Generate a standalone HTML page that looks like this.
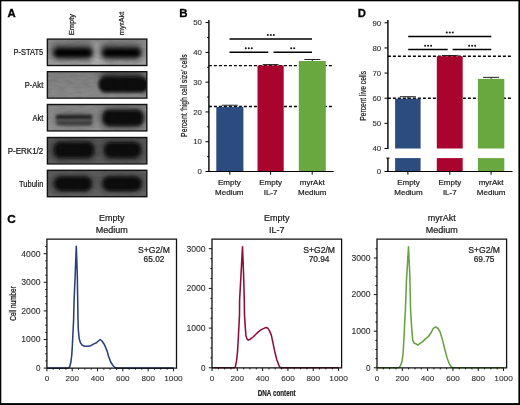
<!DOCTYPE html>
<html><head><meta charset="utf-8"><style>
html,body{margin:0;padding:0;background:#fff;}
body{width:520px;height:405px;overflow:hidden;font-family:"Liberation Sans", sans-serif;}
svg{display:block;will-change:transform;}
</style></head><body>
<svg width="520" height="405" viewBox="0 0 520 405" font-family='"Liberation Sans", sans-serif'><defs><clipPath id="blotclip"><rect x="47.5" y="39.5" width="99.2" height="25.6"/><rect x="47.5" y="72.1" width="99.2" height="25.6"/><rect x="47.5" y="104.9" width="99.2" height="25.6"/><rect x="47.5" y="137.9" width="99.2" height="25.6"/><rect x="47.5" y="170.7" width="99.2" height="25.6"/></clipPath><linearGradient id="g0" x1="0" y1="0" x2="0" y2="1"><stop offset="0" stop-color="#8a8a8a"/><stop offset="1" stop-color="#a2a2a2"/></linearGradient><linearGradient id="g1" x1="0" y1="0" x2="0" y2="1"><stop offset="0" stop-color="#7e7e7e"/><stop offset="1" stop-color="#8a8a8a"/></linearGradient><linearGradient id="g2" x1="0" y1="0" x2="0" y2="1"><stop offset="0" stop-color="#868686"/><stop offset="1" stop-color="#929292"/></linearGradient><linearGradient id="g3" x1="0" y1="0" x2="0" y2="1"><stop offset="0" stop-color="#585858"/><stop offset="1" stop-color="#626262"/></linearGradient><linearGradient id="g4" x1="0" y1="0" x2="0" y2="1"><stop offset="0" stop-color="#5e5e5e"/><stop offset="1" stop-color="#686868"/></linearGradient><filter id="b15" x="-30%" y="-60%" width="160%" height="220%"><feGaussianBlur stdDeviation="1.5"/></filter><filter id="b3" x="-50%" y="-50%" width="200%" height="200%"><feGaussianBlur stdDeviation="3"/></filter><filter id="b1" x="-30%" y="-60%" width="160%" height="220%"><feGaussianBlur stdDeviation="1.2"/></filter><filter id="b2" x="-50%" y="-50%" width="200%" height="200%"><feGaussianBlur stdDeviation="2"/></filter><filter id="noise" x="0" y="0" width="100%" height="100%"><feTurbulence type="fractalNoise" baseFrequency="0.12 0.35" numOctaves="2" seed="5"/><feColorMatrix type="matrix" values="0 0 0 0 0  0 0 0 0 0  0 0 0 0 0  0 0 0 -1.6 1.0"/></filter></defs><rect width="520" height="405" fill="#fff"/><text x="7.4" y="16.9" font-size="11.3" text-anchor="start" font-weight="bold" fill="#000" stroke="#000" stroke-width="0.35">A</text><text transform="translate(73.6,35.2) rotate(-90)" font-size="7.5" font-weight="normal" fill="#222" stroke="#222" stroke-width="0.22" textLength="21.2" lengthAdjust="spacingAndGlyphs">Empty</text><text transform="translate(124.1,35.2) rotate(-90)" font-size="7.5" font-weight="normal" fill="#222" stroke="#222" stroke-width="0.22" textLength="23.6" lengthAdjust="spacingAndGlyphs">myrAkt</text><text x="43.3" y="54.7" font-size="8.4" text-anchor="end" font-weight="normal" fill="#151515" stroke="#151515" stroke-width="0.22" textLength="29.8" lengthAdjust="spacingAndGlyphs" >P-STAT5</text><text x="43.3" y="88.3" font-size="8.4" text-anchor="end" font-weight="normal" fill="#151515" stroke="#151515" stroke-width="0.22" textLength="18.6" lengthAdjust="spacingAndGlyphs" >P-Akt</text><text x="43.3" y="120.8" font-size="8.4" text-anchor="end" font-weight="normal" fill="#151515" stroke="#151515" stroke-width="0.22" textLength="10.9" lengthAdjust="spacingAndGlyphs" >Akt</text><text x="43.3" y="154.0" font-size="8.4" text-anchor="end" font-weight="normal" fill="#151515" stroke="#151515" stroke-width="0.22" textLength="35.6" lengthAdjust="spacingAndGlyphs" >P-ERK1/2</text><text x="43.3" y="187.0" font-size="8.4" text-anchor="end" font-weight="normal" fill="#151515" stroke="#151515" stroke-width="0.22" textLength="24.2" lengthAdjust="spacingAndGlyphs" >Tubulin</text><rect x="47.5" y="39.5" width="99.2" height="25.6" fill="url(#g0)"/><rect x="47.5" y="72.1" width="99.2" height="25.6" fill="url(#g1)"/><rect x="47.5" y="104.9" width="99.2" height="25.6" fill="url(#g2)"/><rect x="47.5" y="137.9" width="99.2" height="25.6" fill="url(#g3)"/><rect x="47.5" y="170.7" width="99.2" height="25.6" fill="url(#g4)"/><g clip-path="url(#blotclip)"><rect x="93" y="45.00" width="8" height="22.6" rx="0" fill="#b4b4b4" filter="url(#b3)"/><rect x="50" y="43.00" width="44" height="17" rx="8.5" fill="#585858" filter="url(#b3)"/><rect x="99" y="43.00" width="44" height="17" rx="8.5" fill="#585858" filter="url(#b3)"/><rect x="53.8" y="48.30" width="38.4" height="9.0" rx="4.5" fill="#040404" filter="url(#b2)"/><rect x="102.4" y="48.30" width="38.4" height="9.0" rx="4.5" fill="#040404" filter="url(#b2)"/><rect x="100" y="72.10" width="44" height="10" rx="5.0" fill="#353535" filter="url(#b3)"/><rect x="98.5" y="77.10" width="50" height="15.5" rx="7.5" fill="#080808" filter="url(#b15)"/><rect x="55" y="112.40" width="40" height="14" rx="7.0" fill="#6c6c6c" filter="url(#b3)"/><rect x="56" y="114.60" width="36" height="10.5" rx="3" fill="#5a5a5a" filter="url(#b15)"/><rect x="56" y="115.00" width="36" height="4.0" rx="2.0" fill="#2a2a2a" filter="url(#b1)"/><rect x="57" y="121.30" width="35" height="3.6" rx="1.8" fill="#404040" filter="url(#b1)"/><rect x="100" y="107.40" width="46" height="21" rx="10.5" fill="#404040" filter="url(#b3)"/><rect x="103.5" y="110.40" width="39" height="15" rx="5" fill="#080808" filter="url(#b15)"/><rect x="50" y="139.40" width="47" height="22" rx="9" fill="#3a3a3a" filter="url(#b3)"/><rect x="101" y="139.40" width="43" height="22" rx="9" fill="#3a3a3a" filter="url(#b3)"/><rect x="54.5" y="142.20" width="39" height="15.5" rx="6.5" fill="#0a0a0a" filter="url(#b15)"/><rect x="104.5" y="142.60" width="36" height="14.8" rx="6.5" fill="#0c0c0c" filter="url(#b15)"/><rect x="50" y="174.20" width="45" height="19" rx="9" fill="#3c3c3c" filter="url(#b3)"/><rect x="99" y="174.20" width="46" height="19" rx="9" fill="#3c3c3c" filter="url(#b3)"/><rect x="54.5" y="176.80" width="37" height="14" rx="7" fill="#080808" filter="url(#b15)"/><rect x="102.8" y="176.80" width="38.5" height="14" rx="7" fill="#080808" filter="url(#b15)"/><rect x="47" y="38" width="100" height="160" filter="url(#noise)" opacity="0.10"/></g><rect x="47.4" y="39.1" width="99.4" height="26.400000000000002" fill="none" stroke="#111" stroke-width="1.4"/><rect x="47.4" y="71.69999999999999" width="99.4" height="26.400000000000002" fill="none" stroke="#111" stroke-width="1.4"/><rect x="47.4" y="104.5" width="99.4" height="26.400000000000002" fill="none" stroke="#111" stroke-width="1.4"/><rect x="47.4" y="137.5" width="99.4" height="26.400000000000002" fill="none" stroke="#111" stroke-width="1.4"/><rect x="47.4" y="170.29999999999998" width="99.4" height="26.400000000000002" fill="none" stroke="#111" stroke-width="1.4"/><text x="179.3" y="17.4" font-size="11.5" text-anchor="start" font-weight="bold" fill="#000" stroke="#000" stroke-width="0.3">B</text><line x1="208.9" x2="332.5" y1="106.5" y2="106.5" stroke="#000" stroke-width="1.4" stroke-dasharray="3 2"/><line x1="208.9" x2="332.5" y1="65.6" y2="65.6" stroke="#000" stroke-width="1.4" stroke-dasharray="3 2"/><rect x="216.3" y="106.88" width="27.10" height="64.62" fill="#2c4b7e"/><line x1="221.85000000000002" x2="237.85000000000002" y1="105.24" y2="105.24" stroke="#222" stroke-width="1"/><line x1="229.85000000000002" x2="229.85000000000002" y1="105.24" y2="106.88" stroke="#222" stroke-width="1"/><rect x="257.5" y="65.48" width="26.20" height="106.02" fill="#a9042e"/><line x1="262.6" x2="278.6" y1="64.59" y2="64.59" stroke="#222" stroke-width="1"/><line x1="270.6" x2="270.6" y1="64.59" y2="65.48" stroke="#222" stroke-width="1"/><rect x="298.8" y="61.02" width="27.00" height="110.48" fill="#69a83f"/><line x1="304.3" x2="320.3" y1="59.53" y2="59.53" stroke="#222" stroke-width="1"/><line x1="312.3" x2="312.3" y1="59.53" y2="61.02" stroke="#222" stroke-width="1"/><line x1="208.9" x2="208.9" y1="20" y2="172.1" stroke="#000" stroke-width="1.4"/><line x1="208.3" x2="333.7" y1="171.5" y2="171.5" stroke="#000" stroke-width="1.1"/><line x1="205.5" x2="208.9" y1="171.50" y2="171.50" stroke="#000" stroke-width="1"/><text x="201.9" y="174.20" font-size="7.8" text-anchor="end" font-weight="normal" fill="#2a2a2a" stroke="#2a2a2a" stroke-width="0.08">0</text><line x1="207.1" x2="208.9" y1="156.61" y2="156.61" stroke="#000" stroke-width="1"/><line x1="205.5" x2="208.9" y1="141.72" y2="141.72" stroke="#000" stroke-width="1"/><text x="201.9" y="144.42" font-size="7.8" text-anchor="end" font-weight="normal" fill="#2a2a2a" stroke="#2a2a2a" stroke-width="0.08">10</text><line x1="207.1" x2="208.9" y1="126.83" y2="126.83" stroke="#000" stroke-width="1"/><line x1="205.5" x2="208.9" y1="111.94" y2="111.94" stroke="#000" stroke-width="1"/><text x="201.9" y="114.64" font-size="7.8" text-anchor="end" font-weight="normal" fill="#2a2a2a" stroke="#2a2a2a" stroke-width="0.08">20</text><line x1="207.1" x2="208.9" y1="97.05" y2="97.05" stroke="#000" stroke-width="1"/><line x1="205.5" x2="208.9" y1="82.16" y2="82.16" stroke="#000" stroke-width="1"/><text x="201.9" y="84.86" font-size="7.8" text-anchor="end" font-weight="normal" fill="#2a2a2a" stroke="#2a2a2a" stroke-width="0.08">30</text><line x1="207.1" x2="208.9" y1="67.27" y2="67.27" stroke="#000" stroke-width="1"/><line x1="205.5" x2="208.9" y1="52.38" y2="52.38" stroke="#000" stroke-width="1"/><text x="201.9" y="55.08" font-size="7.8" text-anchor="end" font-weight="normal" fill="#2a2a2a" stroke="#2a2a2a" stroke-width="0.08">40</text><line x1="207.1" x2="208.9" y1="37.49" y2="37.49" stroke="#000" stroke-width="1"/><line x1="205.5" x2="208.9" y1="22.60" y2="22.60" stroke="#000" stroke-width="1"/><text x="201.9" y="25.30" font-size="7.8" text-anchor="end" font-weight="normal" fill="#2a2a2a" stroke="#2a2a2a" stroke-width="0.08">50</text><line x1="229.8" x2="229.8" y1="171.5" y2="174.7" stroke="#000" stroke-width="1"/><line x1="270.6" x2="270.6" y1="171.5" y2="174.7" stroke="#000" stroke-width="1"/><line x1="312.2" x2="312.2" y1="171.5" y2="174.7" stroke="#000" stroke-width="1"/><text x="229.3" y="185.2" font-size="8.0" text-anchor="middle" font-weight="normal" fill="#222" stroke="#222" stroke-width="0.22" >Empty</text><text x="229.3" y="194.8" font-size="8.0" text-anchor="middle" font-weight="normal" fill="#222" stroke="#222" stroke-width="0.22" >Medium</text><text x="270.6" y="185.2" font-size="8.0" text-anchor="middle" font-weight="normal" fill="#222" stroke="#222" stroke-width="0.22" >Empty</text><text x="270.6" y="194.8" font-size="8.0" text-anchor="middle" font-weight="normal" fill="#222" stroke="#222" stroke-width="0.22" >IL-7</text><text x="312.2" y="185.2" font-size="8.0" text-anchor="middle" font-weight="normal" fill="#222" stroke="#222" stroke-width="0.22" >myrAkt</text><text x="312.2" y="194.8" font-size="8.0" text-anchor="middle" font-weight="normal" fill="#222" stroke="#222" stroke-width="0.22" >Medium</text><line x1="229.5" x2="312.0" y1="39.0" y2="39.0" stroke="#000" stroke-width="1.5"/><line x1="229.5" x2="268.3" y1="52.3" y2="52.3" stroke="#000" stroke-width="1.5"/><line x1="273.5" x2="312.0" y1="52.3" y2="52.3" stroke="#000" stroke-width="1.5"/><circle cx="267.80" cy="34.9" r="1.0" fill="#111"/><circle cx="270.80" cy="34.9" r="1.0" fill="#111"/><circle cx="273.80" cy="34.9" r="1.0" fill="#111"/><circle cx="245.80" cy="48.2" r="1.0" fill="#111"/><circle cx="248.80" cy="48.2" r="1.0" fill="#111"/><circle cx="251.80" cy="48.2" r="1.0" fill="#111"/><circle cx="291.20" cy="48.2" r="1.0" fill="#111"/><circle cx="294.20" cy="48.2" r="1.0" fill="#111"/><text transform="translate(187.3,136.9) rotate(-90)" font-size="9.6" font-weight="normal" fill="#1a1a1a" stroke="#1a1a1a" stroke-width="0.22" textLength="82.6" lengthAdjust="spacingAndGlyphs">Percent ‘high cell size’ cells</text><text x="357.7" y="17.2" font-size="11.3" text-anchor="start" font-weight="bold" fill="#000" stroke="#000" stroke-width="0.3">D</text><line x1="387.9" x2="511.7" y1="56.2" y2="56.2" stroke="#000" stroke-width="1.4" stroke-dasharray="3 2"/><line x1="387.9" x2="511.7" y1="98.2" y2="98.2" stroke="#000" stroke-width="1.4" stroke-dasharray="3 2"/><rect x="395.1" y="98.72" width="25.50" height="49.78" fill="#2c4b7e"/><rect x="395.1" y="158.1" width="25.50" height="13.40" fill="#2c4b7e"/><line x1="399.85" x2="415.85" y1="96.71" y2="96.71" stroke="#222" stroke-width="1"/><line x1="407.85" x2="407.85" y1="96.71" y2="98.72" stroke="#222" stroke-width="1"/><rect x="436.8" y="56.24" width="25.90" height="92.26" fill="#a9042e"/><rect x="436.8" y="158.1" width="25.90" height="13.40" fill="#a9042e"/><line x1="441.75" x2="457.75" y1="55.48" y2="55.48" stroke="#222" stroke-width="1"/><line x1="449.75" x2="449.75" y1="55.48" y2="56.24" stroke="#222" stroke-width="1"/><rect x="477.9" y="78.86" width="26.40" height="69.64" fill="#69a83f"/><rect x="477.9" y="158.1" width="26.40" height="13.40" fill="#69a83f"/><line x1="483.1" x2="499.1" y1="77.35" y2="77.35" stroke="#222" stroke-width="1"/><line x1="491.1" x2="491.1" y1="77.35" y2="78.86" stroke="#222" stroke-width="1"/><line x1="387.9" x2="387.9" y1="20" y2="149.0" stroke="#000" stroke-width="1.4"/><line x1="387.9" x2="387.9" y1="158.1" y2="172.1" stroke="#000" stroke-width="1.4"/><line x1="386.29999999999995" x2="389.5" y1="158.1" y2="158.1" stroke="#000" stroke-width="1"/><line x1="387.29999999999995" x2="512.5" y1="171.5" y2="171.5" stroke="#000" stroke-width="1.1"/><line x1="384.5" x2="387.9" y1="148.50" y2="148.50" stroke="#000" stroke-width="1"/><text x="381.2" y="151.20" font-size="7.8" text-anchor="end" font-weight="normal" fill="#2a2a2a" stroke="#2a2a2a" stroke-width="0.08">40</text><line x1="384.5" x2="387.9" y1="123.36" y2="123.36" stroke="#000" stroke-width="1"/><text x="381.2" y="126.06" font-size="7.8" text-anchor="end" font-weight="normal" fill="#2a2a2a" stroke="#2a2a2a" stroke-width="0.08">50</text><line x1="384.5" x2="387.9" y1="98.22" y2="98.22" stroke="#000" stroke-width="1"/><text x="381.2" y="100.92" font-size="7.8" text-anchor="end" font-weight="normal" fill="#2a2a2a" stroke="#2a2a2a" stroke-width="0.08">60</text><line x1="384.5" x2="387.9" y1="73.08" y2="73.08" stroke="#000" stroke-width="1"/><text x="381.2" y="75.78" font-size="7.8" text-anchor="end" font-weight="normal" fill="#2a2a2a" stroke="#2a2a2a" stroke-width="0.08">70</text><line x1="384.5" x2="387.9" y1="47.94" y2="47.94" stroke="#000" stroke-width="1"/><text x="381.2" y="50.64" font-size="7.8" text-anchor="end" font-weight="normal" fill="#2a2a2a" stroke="#2a2a2a" stroke-width="0.08">80</text><line x1="384.5" x2="387.9" y1="22.80" y2="22.80" stroke="#000" stroke-width="1"/><text x="381.2" y="25.50" font-size="7.8" text-anchor="end" font-weight="normal" fill="#2a2a2a" stroke="#2a2a2a" stroke-width="0.08">90</text><line x1="384.5" x2="387.9" y1="171.5" y2="171.5" stroke="#000" stroke-width="1"/><text x="381.2" y="174.20" font-size="7.8" text-anchor="end" font-weight="normal" fill="#2a2a2a" stroke="#2a2a2a" stroke-width="0.08">0</text><line x1="407.9" x2="407.9" y1="171.5" y2="174.7" stroke="#000" stroke-width="1"/><line x1="449.8" x2="449.8" y1="171.5" y2="174.7" stroke="#000" stroke-width="1"/><line x1="491.1" x2="491.1" y1="171.5" y2="174.7" stroke="#000" stroke-width="1"/><text x="408.5" y="185.4" font-size="8.0" text-anchor="middle" font-weight="normal" fill="#222" stroke="#222" stroke-width="0.22" >Empty</text><text x="408.5" y="195.0" font-size="8.0" text-anchor="middle" font-weight="normal" fill="#222" stroke="#222" stroke-width="0.22" >Medium</text><text x="449.8" y="185.4" font-size="8.0" text-anchor="middle" font-weight="normal" fill="#222" stroke="#222" stroke-width="0.22" >Empty</text><text x="449.8" y="195.0" font-size="8.0" text-anchor="middle" font-weight="normal" fill="#222" stroke="#222" stroke-width="0.22" >IL-7</text><text x="491.1" y="185.4" font-size="8.0" text-anchor="middle" font-weight="normal" fill="#222" stroke="#222" stroke-width="0.22" >myrAkt</text><text x="491.1" y="195.0" font-size="8.0" text-anchor="middle" font-weight="normal" fill="#222" stroke="#222" stroke-width="0.22" >Medium</text><line x1="408.2" x2="491.3" y1="36.4" y2="36.4" stroke="#000" stroke-width="1.5"/><line x1="408.2" x2="447.7" y1="49.6" y2="49.6" stroke="#000" stroke-width="1.5"/><line x1="452.6" x2="491.3" y1="49.6" y2="49.6" stroke="#000" stroke-width="1.5"/><circle cx="446.80" cy="32.5" r="1.0" fill="#111"/><circle cx="449.80" cy="32.5" r="1.0" fill="#111"/><circle cx="452.80" cy="32.5" r="1.0" fill="#111"/><circle cx="425.10" cy="45.8" r="1.0" fill="#111"/><circle cx="428.10" cy="45.8" r="1.0" fill="#111"/><circle cx="431.10" cy="45.8" r="1.0" fill="#111"/><circle cx="469.10" cy="45.8" r="1.0" fill="#111"/><circle cx="472.10" cy="45.8" r="1.0" fill="#111"/><circle cx="475.10" cy="45.8" r="1.0" fill="#111"/><text transform="translate(366.1,120.7) rotate(-90)" font-size="9.3" font-weight="normal" fill="#1a1a1a" stroke="#1a1a1a" stroke-width="0.22" textLength="49.8" lengthAdjust="spacingAndGlyphs">Percent live cells</text><text x="7.3" y="223.0" font-size="11.8" text-anchor="start" font-weight="bold" fill="#000" stroke="#000" stroke-width="0.35">C</text><text transform="translate(15.9,320.7) rotate(-90)" font-size="8.6" font-weight="normal" fill="#111" stroke="#111" stroke-width="0.22" textLength="34.5" lengthAdjust="spacingAndGlyphs">Cell number</text><text x="257.8" y="395.6" font-size="9.9" text-anchor="start" font-weight="bold" fill="#222" stroke="#222" stroke-width="0.22" textLength="37.8" lengthAdjust="spacingAndGlyphs" >DNA content</text><path d="M46.90,368.10 L66.00,368.10 L68.70,367.90 L69.70,366.90 L70.90,362.00 L71.80,354.60 L72.40,344.70 L73.00,332.30 L73.60,320.00 L74.10,300.00 L75.20,275.00 L76.30,246.20 L77.30,275.00 L77.70,300.00 L78.00,320.00 L78.30,329.90 L79.20,338.50 L80.40,342.80 L82.30,345.30 L84.80,346.20 L87.80,346.30 L90.90,345.70 L93.40,344.10 L96.50,342.80 L98.30,341.00 L100.20,339.50 L102.00,341.00 L104.50,344.70 L107.00,350.90 L108.80,357.00 L110.70,362.00 L113.10,365.70 L115.00,367.50 L117.00,368.10 L173.50,368.10" fill="none" stroke="#2a3f78" stroke-width="1.55" stroke-linejoin="round"/><polyline points="46.9,368.1 46.9,239.1 176.5,239.1 176.5,368.1 46.9,368.1" fill="none" stroke="#111" stroke-width="1.3"/><line x1="43.699999999999996" x2="46.9" y1="368.10" y2="368.10" stroke="#111" stroke-width="1"/><text x="40.5" y="370.90" font-size="8.2" text-anchor="end" font-weight="normal" fill="#2a2a2a" stroke="#2a2a2a" stroke-width="0.08">0</text><line x1="45.3" x2="46.9" y1="360.95" y2="360.95" stroke="#111" stroke-width="1"/><line x1="45.3" x2="46.9" y1="353.80" y2="353.80" stroke="#111" stroke-width="1"/><line x1="45.3" x2="46.9" y1="346.65" y2="346.65" stroke="#111" stroke-width="1"/><line x1="43.699999999999996" x2="46.9" y1="339.50" y2="339.50" stroke="#111" stroke-width="1"/><text x="40.5" y="342.30" font-size="8.2" text-anchor="end" font-weight="normal" fill="#2a2a2a" textLength="19.2" lengthAdjust="spacingAndGlyphs" stroke="#2a2a2a" stroke-width="0.08">1000</text><line x1="45.3" x2="46.9" y1="332.35" y2="332.35" stroke="#111" stroke-width="1"/><line x1="45.3" x2="46.9" y1="325.20" y2="325.20" stroke="#111" stroke-width="1"/><line x1="45.3" x2="46.9" y1="318.05" y2="318.05" stroke="#111" stroke-width="1"/><line x1="43.699999999999996" x2="46.9" y1="310.90" y2="310.90" stroke="#111" stroke-width="1"/><text x="40.5" y="313.70" font-size="8.2" text-anchor="end" font-weight="normal" fill="#2a2a2a" textLength="19.2" lengthAdjust="spacingAndGlyphs" stroke="#2a2a2a" stroke-width="0.08">2000</text><line x1="45.3" x2="46.9" y1="303.75" y2="303.75" stroke="#111" stroke-width="1"/><line x1="45.3" x2="46.9" y1="296.60" y2="296.60" stroke="#111" stroke-width="1"/><line x1="45.3" x2="46.9" y1="289.45" y2="289.45" stroke="#111" stroke-width="1"/><line x1="43.699999999999996" x2="46.9" y1="282.30" y2="282.30" stroke="#111" stroke-width="1"/><text x="40.5" y="285.10" font-size="8.2" text-anchor="end" font-weight="normal" fill="#2a2a2a" textLength="19.2" lengthAdjust="spacingAndGlyphs" stroke="#2a2a2a" stroke-width="0.08">3000</text><line x1="45.3" x2="46.9" y1="275.15" y2="275.15" stroke="#111" stroke-width="1"/><line x1="45.3" x2="46.9" y1="268.00" y2="268.00" stroke="#111" stroke-width="1"/><line x1="45.3" x2="46.9" y1="260.85" y2="260.85" stroke="#111" stroke-width="1"/><line x1="43.699999999999996" x2="46.9" y1="253.70" y2="253.70" stroke="#111" stroke-width="1"/><text x="40.5" y="256.50" font-size="8.2" text-anchor="end" font-weight="normal" fill="#2a2a2a" textLength="19.2" lengthAdjust="spacingAndGlyphs" stroke="#2a2a2a" stroke-width="0.08">4000</text><line x1="45.3" x2="46.9" y1="246.55" y2="246.55" stroke="#111" stroke-width="1"/><line x1="46.90" x2="46.90" y1="368.1" y2="371.3" stroke="#111" stroke-width="1"/><text x="46.90" y="381.1" font-size="8.1" text-anchor="middle" font-weight="normal" fill="#2a2a2a" stroke="#2a2a2a" stroke-width="0.08">0</text><line x1="53.23" x2="53.23" y1="368.1" y2="369.70000000000005" stroke="#111" stroke-width="1"/><line x1="59.55" x2="59.55" y1="368.1" y2="369.70000000000005" stroke="#111" stroke-width="1"/><line x1="65.88" x2="65.88" y1="368.1" y2="369.70000000000005" stroke="#111" stroke-width="1"/><line x1="72.21" x2="72.21" y1="368.1" y2="371.3" stroke="#111" stroke-width="1"/><text x="72.21" y="381.1" font-size="8.1" text-anchor="middle" font-weight="normal" fill="#2a2a2a" stroke="#2a2a2a" stroke-width="0.08">200</text><line x1="78.54" x2="78.54" y1="368.1" y2="369.70000000000005" stroke="#111" stroke-width="1"/><line x1="84.86" x2="84.86" y1="368.1" y2="369.70000000000005" stroke="#111" stroke-width="1"/><line x1="91.19" x2="91.19" y1="368.1" y2="369.70000000000005" stroke="#111" stroke-width="1"/><line x1="97.52" x2="97.52" y1="368.1" y2="371.3" stroke="#111" stroke-width="1"/><text x="97.52" y="381.1" font-size="8.1" text-anchor="middle" font-weight="normal" fill="#2a2a2a" stroke="#2a2a2a" stroke-width="0.08">400</text><line x1="103.85" x2="103.85" y1="368.1" y2="369.70000000000005" stroke="#111" stroke-width="1"/><line x1="110.17" x2="110.17" y1="368.1" y2="369.70000000000005" stroke="#111" stroke-width="1"/><line x1="116.50" x2="116.50" y1="368.1" y2="369.70000000000005" stroke="#111" stroke-width="1"/><line x1="122.83" x2="122.83" y1="368.1" y2="371.3" stroke="#111" stroke-width="1"/><text x="122.83" y="381.1" font-size="8.1" text-anchor="middle" font-weight="normal" fill="#2a2a2a" stroke="#2a2a2a" stroke-width="0.08">600</text><line x1="129.16" x2="129.16" y1="368.1" y2="369.70000000000005" stroke="#111" stroke-width="1"/><line x1="135.48" x2="135.48" y1="368.1" y2="369.70000000000005" stroke="#111" stroke-width="1"/><line x1="141.81" x2="141.81" y1="368.1" y2="369.70000000000005" stroke="#111" stroke-width="1"/><line x1="148.14" x2="148.14" y1="368.1" y2="371.3" stroke="#111" stroke-width="1"/><text x="148.14" y="381.1" font-size="8.1" text-anchor="middle" font-weight="normal" fill="#2a2a2a" stroke="#2a2a2a" stroke-width="0.08">800</text><line x1="154.47" x2="154.47" y1="368.1" y2="369.70000000000005" stroke="#111" stroke-width="1"/><line x1="160.79" x2="160.79" y1="368.1" y2="369.70000000000005" stroke="#111" stroke-width="1"/><line x1="167.12" x2="167.12" y1="368.1" y2="369.70000000000005" stroke="#111" stroke-width="1"/><line x1="173.45" x2="173.45" y1="368.1" y2="371.3" stroke="#111" stroke-width="1"/><text x="173.45" y="381.1" font-size="8.1" text-anchor="middle" font-weight="normal" fill="#2a2a2a" textLength="18.6" lengthAdjust="spacingAndGlyphs" stroke="#2a2a2a" stroke-width="0.08">1000</text><text x="111.70" y="221.1" font-size="9" text-anchor="middle" font-weight="normal" fill="#222" stroke="#222" stroke-width="0.22" >Empty</text><text x="111.70" y="232.9" font-size="9" text-anchor="middle" font-weight="normal" fill="#222" stroke="#222" stroke-width="0.22" >Medium</text><text x="169.90" y="252.7" font-size="8.3" text-anchor="end" font-weight="normal" fill="#1a1a1a" stroke="#1a1a1a" stroke-width="0.22" textLength="31.8" lengthAdjust="spacingAndGlyphs" >S+G2/M</text><text x="154.00" y="262.3" font-size="8.3" text-anchor="middle" font-weight="normal" fill="#1a1a1a" stroke="#1a1a1a" stroke-width="0.22" >65.02</text><path d="M212.00,367.80 L233.00,367.80 L234.70,367.70 L235.40,366.60 L236.50,361.20 L237.40,353.00 L238.10,342.20 L238.80,328.60 L239.50,315.00 L239.60,300.00 L241.00,275.00 L242.50,246.70 L243.60,275.00 L244.30,300.00 L244.50,315.00 L245.20,325.90 L245.90,335.40 L246.90,338.80 L248.30,340.10 L250.30,339.20 L253.10,337.00 L255.80,334.30 L257.80,332.40 L260.50,330.20 L263.30,328.60 L266.00,327.50 L267.60,327.90 L269.40,330.60 L271.40,335.40 L272.80,342.20 L274.80,351.70 L276.80,359.80 L278.90,365.30 L280.20,367.70 L282.00,367.80 L338.50,367.80" fill="none" stroke="#8c0e36" stroke-width="1.55" stroke-linejoin="round"/><polyline points="212.0,367.8 212.0,239.1 341.6,239.1 341.6,367.8 212.0,367.8" fill="none" stroke="#111" stroke-width="1.3"/><line x1="208.8" x2="212.0" y1="367.80" y2="367.80" stroke="#111" stroke-width="1"/><text x="205.6" y="370.60" font-size="8.2" text-anchor="end" font-weight="normal" fill="#2a2a2a" stroke="#2a2a2a" stroke-width="0.08">0</text><line x1="210.4" x2="212.0" y1="357.88" y2="357.88" stroke="#111" stroke-width="1"/><line x1="210.4" x2="212.0" y1="347.95" y2="347.95" stroke="#111" stroke-width="1"/><line x1="210.4" x2="212.0" y1="338.03" y2="338.03" stroke="#111" stroke-width="1"/><line x1="208.8" x2="212.0" y1="328.10" y2="328.10" stroke="#111" stroke-width="1"/><text x="205.6" y="330.90" font-size="8.2" text-anchor="end" font-weight="normal" fill="#2a2a2a" textLength="19.2" lengthAdjust="spacingAndGlyphs" stroke="#2a2a2a" stroke-width="0.08">1000</text><line x1="210.4" x2="212.0" y1="318.18" y2="318.18" stroke="#111" stroke-width="1"/><line x1="210.4" x2="212.0" y1="308.25" y2="308.25" stroke="#111" stroke-width="1"/><line x1="210.4" x2="212.0" y1="298.33" y2="298.33" stroke="#111" stroke-width="1"/><line x1="208.8" x2="212.0" y1="288.40" y2="288.40" stroke="#111" stroke-width="1"/><text x="205.6" y="291.20" font-size="8.2" text-anchor="end" font-weight="normal" fill="#2a2a2a" textLength="19.2" lengthAdjust="spacingAndGlyphs" stroke="#2a2a2a" stroke-width="0.08">2000</text><line x1="210.4" x2="212.0" y1="278.48" y2="278.48" stroke="#111" stroke-width="1"/><line x1="210.4" x2="212.0" y1="268.55" y2="268.55" stroke="#111" stroke-width="1"/><line x1="210.4" x2="212.0" y1="258.62" y2="258.62" stroke="#111" stroke-width="1"/><line x1="208.8" x2="212.0" y1="248.70" y2="248.70" stroke="#111" stroke-width="1"/><text x="205.6" y="251.50" font-size="8.2" text-anchor="end" font-weight="normal" fill="#2a2a2a" textLength="19.2" lengthAdjust="spacingAndGlyphs" stroke="#2a2a2a" stroke-width="0.08">3000</text><line x1="212.00" x2="212.00" y1="367.8" y2="371.0" stroke="#111" stroke-width="1"/><text x="212.00" y="381.1" font-size="8.1" text-anchor="middle" font-weight="normal" fill="#2a2a2a" stroke="#2a2a2a" stroke-width="0.08">0</text><line x1="218.33" x2="218.33" y1="367.8" y2="369.40000000000003" stroke="#111" stroke-width="1"/><line x1="224.66" x2="224.66" y1="367.8" y2="369.40000000000003" stroke="#111" stroke-width="1"/><line x1="230.98" x2="230.98" y1="367.8" y2="369.40000000000003" stroke="#111" stroke-width="1"/><line x1="237.31" x2="237.31" y1="367.8" y2="371.0" stroke="#111" stroke-width="1"/><text x="237.31" y="381.1" font-size="8.1" text-anchor="middle" font-weight="normal" fill="#2a2a2a" stroke="#2a2a2a" stroke-width="0.08">200</text><line x1="243.64" x2="243.64" y1="367.8" y2="369.40000000000003" stroke="#111" stroke-width="1"/><line x1="249.97" x2="249.97" y1="367.8" y2="369.40000000000003" stroke="#111" stroke-width="1"/><line x1="256.29" x2="256.29" y1="367.8" y2="369.40000000000003" stroke="#111" stroke-width="1"/><line x1="262.62" x2="262.62" y1="367.8" y2="371.0" stroke="#111" stroke-width="1"/><text x="262.62" y="381.1" font-size="8.1" text-anchor="middle" font-weight="normal" fill="#2a2a2a" stroke="#2a2a2a" stroke-width="0.08">400</text><line x1="268.95" x2="268.95" y1="367.8" y2="369.40000000000003" stroke="#111" stroke-width="1"/><line x1="275.27" x2="275.27" y1="367.8" y2="369.40000000000003" stroke="#111" stroke-width="1"/><line x1="281.60" x2="281.60" y1="367.8" y2="369.40000000000003" stroke="#111" stroke-width="1"/><line x1="287.93" x2="287.93" y1="367.8" y2="371.0" stroke="#111" stroke-width="1"/><text x="287.93" y="381.1" font-size="8.1" text-anchor="middle" font-weight="normal" fill="#2a2a2a" stroke="#2a2a2a" stroke-width="0.08">600</text><line x1="294.26" x2="294.26" y1="367.8" y2="369.40000000000003" stroke="#111" stroke-width="1"/><line x1="300.58" x2="300.58" y1="367.8" y2="369.40000000000003" stroke="#111" stroke-width="1"/><line x1="306.91" x2="306.91" y1="367.8" y2="369.40000000000003" stroke="#111" stroke-width="1"/><line x1="313.24" x2="313.24" y1="367.8" y2="371.0" stroke="#111" stroke-width="1"/><text x="313.24" y="381.1" font-size="8.1" text-anchor="middle" font-weight="normal" fill="#2a2a2a" stroke="#2a2a2a" stroke-width="0.08">800</text><line x1="319.57" x2="319.57" y1="367.8" y2="369.40000000000003" stroke="#111" stroke-width="1"/><line x1="325.89" x2="325.89" y1="367.8" y2="369.40000000000003" stroke="#111" stroke-width="1"/><line x1="332.22" x2="332.22" y1="367.8" y2="369.40000000000003" stroke="#111" stroke-width="1"/><line x1="338.55" x2="338.55" y1="367.8" y2="371.0" stroke="#111" stroke-width="1"/><text x="338.55" y="381.1" font-size="8.1" text-anchor="middle" font-weight="normal" fill="#2a2a2a" textLength="18.6" lengthAdjust="spacingAndGlyphs" stroke="#2a2a2a" stroke-width="0.08">1000</text><text x="276.80" y="221.1" font-size="9" text-anchor="middle" font-weight="normal" fill="#222" stroke="#222" stroke-width="0.22" >Empty</text><text x="276.80" y="232.9" font-size="9" text-anchor="middle" font-weight="normal" fill="#222" stroke="#222" stroke-width="0.22" >IL-7</text><text x="335.00" y="252.7" font-size="8.3" text-anchor="end" font-weight="normal" fill="#1a1a1a" stroke="#1a1a1a" stroke-width="0.22" textLength="31.8" lengthAdjust="spacingAndGlyphs" >S+G2/M</text><text x="319.10" y="262.3" font-size="8.3" text-anchor="middle" font-weight="normal" fill="#1a1a1a" stroke="#1a1a1a" stroke-width="0.22" >70.94</text><path d="M377.00,367.80 L397.00,367.80 L399.10,367.50 L400.60,365.60 L402.10,361.10 L403.10,353.00 L403.90,339.60 L404.60,324.80 L405.40,310.00 L406.50,280.00 L408.50,246.70 L409.80,275.00 L410.60,310.00 L411.30,321.90 L412.00,332.20 L412.80,340.40 L414.30,343.30 L416.50,344.10 L418.00,345.30 L419.40,343.80 L422.40,341.90 L425.40,338.90 L428.30,336.70 L431.30,332.20 L433.50,328.10 L435.70,327.00 L438.00,328.50 L440.20,332.20 L442.40,339.60 L444.60,348.50 L446.90,357.40 L449.10,363.30 L451.30,367.00 L453.00,367.80 L503.50,367.80" fill="none" stroke="#67a243" stroke-width="1.55" stroke-linejoin="round"/><polyline points="377.0,367.8 377.0,239.1 506.6,239.1 506.6,367.8 377.0,367.8" fill="none" stroke="#111" stroke-width="1.3"/><line x1="373.8" x2="377.0" y1="367.80" y2="367.80" stroke="#111" stroke-width="1"/><text x="370.6" y="370.60" font-size="8.2" text-anchor="end" font-weight="normal" fill="#2a2a2a" stroke="#2a2a2a" stroke-width="0.08">0</text><line x1="375.4" x2="377.0" y1="358.65" y2="358.65" stroke="#111" stroke-width="1"/><line x1="375.4" x2="377.0" y1="349.50" y2="349.50" stroke="#111" stroke-width="1"/><line x1="375.4" x2="377.0" y1="340.35" y2="340.35" stroke="#111" stroke-width="1"/><line x1="373.8" x2="377.0" y1="331.20" y2="331.20" stroke="#111" stroke-width="1"/><text x="370.6" y="334.00" font-size="8.2" text-anchor="end" font-weight="normal" fill="#2a2a2a" textLength="19.2" lengthAdjust="spacingAndGlyphs" stroke="#2a2a2a" stroke-width="0.08">1000</text><line x1="375.4" x2="377.0" y1="322.05" y2="322.05" stroke="#111" stroke-width="1"/><line x1="375.4" x2="377.0" y1="312.90" y2="312.90" stroke="#111" stroke-width="1"/><line x1="375.4" x2="377.0" y1="303.75" y2="303.75" stroke="#111" stroke-width="1"/><line x1="373.8" x2="377.0" y1="294.60" y2="294.60" stroke="#111" stroke-width="1"/><text x="370.6" y="297.40" font-size="8.2" text-anchor="end" font-weight="normal" fill="#2a2a2a" textLength="19.2" lengthAdjust="spacingAndGlyphs" stroke="#2a2a2a" stroke-width="0.08">2000</text><line x1="375.4" x2="377.0" y1="285.45" y2="285.45" stroke="#111" stroke-width="1"/><line x1="375.4" x2="377.0" y1="276.30" y2="276.30" stroke="#111" stroke-width="1"/><line x1="375.4" x2="377.0" y1="267.15" y2="267.15" stroke="#111" stroke-width="1"/><line x1="373.8" x2="377.0" y1="258.00" y2="258.00" stroke="#111" stroke-width="1"/><text x="370.6" y="260.80" font-size="8.2" text-anchor="end" font-weight="normal" fill="#2a2a2a" textLength="19.2" lengthAdjust="spacingAndGlyphs" stroke="#2a2a2a" stroke-width="0.08">3000</text><line x1="375.4" x2="377.0" y1="248.85" y2="248.85" stroke="#111" stroke-width="1"/><line x1="377.00" x2="377.00" y1="367.8" y2="371.0" stroke="#111" stroke-width="1"/><text x="377.00" y="381.1" font-size="8.1" text-anchor="middle" font-weight="normal" fill="#2a2a2a" stroke="#2a2a2a" stroke-width="0.08">0</text><line x1="383.33" x2="383.33" y1="367.8" y2="369.40000000000003" stroke="#111" stroke-width="1"/><line x1="389.65" x2="389.65" y1="367.8" y2="369.40000000000003" stroke="#111" stroke-width="1"/><line x1="395.98" x2="395.98" y1="367.8" y2="369.40000000000003" stroke="#111" stroke-width="1"/><line x1="402.31" x2="402.31" y1="367.8" y2="371.0" stroke="#111" stroke-width="1"/><text x="402.31" y="381.1" font-size="8.1" text-anchor="middle" font-weight="normal" fill="#2a2a2a" stroke="#2a2a2a" stroke-width="0.08">200</text><line x1="408.64" x2="408.64" y1="367.8" y2="369.40000000000003" stroke="#111" stroke-width="1"/><line x1="414.96" x2="414.96" y1="367.8" y2="369.40000000000003" stroke="#111" stroke-width="1"/><line x1="421.29" x2="421.29" y1="367.8" y2="369.40000000000003" stroke="#111" stroke-width="1"/><line x1="427.62" x2="427.62" y1="367.8" y2="371.0" stroke="#111" stroke-width="1"/><text x="427.62" y="381.1" font-size="8.1" text-anchor="middle" font-weight="normal" fill="#2a2a2a" stroke="#2a2a2a" stroke-width="0.08">400</text><line x1="433.95" x2="433.95" y1="367.8" y2="369.40000000000003" stroke="#111" stroke-width="1"/><line x1="440.27" x2="440.27" y1="367.8" y2="369.40000000000003" stroke="#111" stroke-width="1"/><line x1="446.60" x2="446.60" y1="367.8" y2="369.40000000000003" stroke="#111" stroke-width="1"/><line x1="452.93" x2="452.93" y1="367.8" y2="371.0" stroke="#111" stroke-width="1"/><text x="452.93" y="381.1" font-size="8.1" text-anchor="middle" font-weight="normal" fill="#2a2a2a" stroke="#2a2a2a" stroke-width="0.08">600</text><line x1="459.26" x2="459.26" y1="367.8" y2="369.40000000000003" stroke="#111" stroke-width="1"/><line x1="465.58" x2="465.58" y1="367.8" y2="369.40000000000003" stroke="#111" stroke-width="1"/><line x1="471.91" x2="471.91" y1="367.8" y2="369.40000000000003" stroke="#111" stroke-width="1"/><line x1="478.24" x2="478.24" y1="367.8" y2="371.0" stroke="#111" stroke-width="1"/><text x="478.24" y="381.1" font-size="8.1" text-anchor="middle" font-weight="normal" fill="#2a2a2a" stroke="#2a2a2a" stroke-width="0.08">800</text><line x1="484.57" x2="484.57" y1="367.8" y2="369.40000000000003" stroke="#111" stroke-width="1"/><line x1="490.89" x2="490.89" y1="367.8" y2="369.40000000000003" stroke="#111" stroke-width="1"/><line x1="497.22" x2="497.22" y1="367.8" y2="369.40000000000003" stroke="#111" stroke-width="1"/><line x1="503.55" x2="503.55" y1="367.8" y2="371.0" stroke="#111" stroke-width="1"/><text x="503.55" y="381.1" font-size="8.1" text-anchor="middle" font-weight="normal" fill="#2a2a2a" textLength="18.6" lengthAdjust="spacingAndGlyphs" stroke="#2a2a2a" stroke-width="0.08">1000</text><text x="441.80" y="221.1" font-size="9" text-anchor="middle" font-weight="normal" fill="#222" stroke="#222" stroke-width="0.22" >myrAkt</text><text x="441.80" y="232.9" font-size="9" text-anchor="middle" font-weight="normal" fill="#222" stroke="#222" stroke-width="0.22" >Medium</text><text x="500.00" y="252.7" font-size="8.3" text-anchor="end" font-weight="normal" fill="#1a1a1a" stroke="#1a1a1a" stroke-width="0.22" textLength="31.8" lengthAdjust="spacingAndGlyphs" >S+G2/M</text><text x="484.10" y="262.3" font-size="8.3" text-anchor="middle" font-weight="normal" fill="#1a1a1a" stroke="#1a1a1a" stroke-width="0.22" >69.75</text><rect x="0" y="0" width="1.3" height="405" fill="#000"/><rect x="0" y="0" width="520" height="1.3" fill="#000"/><rect x="518.4" y="0" width="1.6" height="405" fill="#000"/><rect x="0" y="403.1" width="520" height="1.9" fill="#000"/></svg>
</body></html>
